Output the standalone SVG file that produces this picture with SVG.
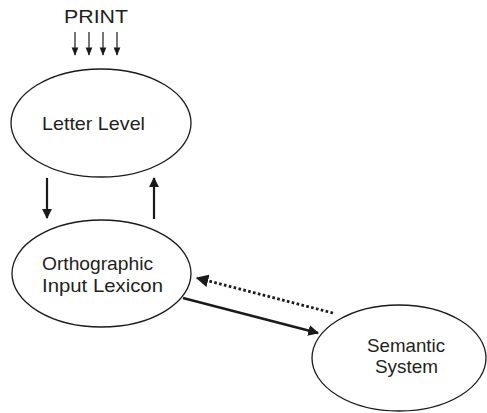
<svg xmlns="http://www.w3.org/2000/svg" width="487" height="413" viewBox="0 0 487 413">
<style>
.node{fill:#fff;stroke:#1a1a1a;stroke-width:1.3}
.lbl{font-family:"Liberation Sans",Arial,sans-serif;font-size:19px;fill:#231f20}
.c{stroke:#1a1a1a;fill:none}
</style>
<defs>
<marker id="ah" viewBox="0 0 10 10" refX="9" refY="5" markerWidth="4.5" markerHeight="4.5" orient="auto" markerUnits="strokeWidth"><path d="M0,0L10,5L0,10z" fill="#1a1a1a"/></marker>
<marker id="ahs" viewBox="0 0 10 10" refX="9" refY="5" markerWidth="7" markerHeight="7" orient="auto" markerUnits="strokeWidth"><path d="M0,1L10,5L0,9z" fill="#1a1a1a"/></marker>
</defs>
<rect width="487" height="413" fill="#fff"/>
<g id="print">
<text class="lbl" x="64" y="23" textLength="64" lengthAdjust="spacingAndGlyphs">PRINT</text>
</g>
<g id="letter-level">
<ellipse class="node" cx="101" cy="123" rx="90" ry="54"/>
<text class="lbl" x="42" y="130" textLength="103" lengthAdjust="spacingAndGlyphs">Letter Level</text>
</g>
<g id="orthographic-input-lexicon">
<ellipse class="node" cx="101.5" cy="273.5" rx="89.5" ry="53.5"/>
<text class="lbl" x="42" y="270" textLength="111" lengthAdjust="spacingAndGlyphs">Orthographic</text>
<text class="lbl" x="42" y="292" textLength="121" lengthAdjust="spacingAndGlyphs">Input Lexicon</text>
</g>
<g id="semantic-system">
<ellipse class="node" cx="399" cy="358" rx="87" ry="53"/>
<text class="lbl" x="406" y="352" text-anchor="middle" textLength="78" lengthAdjust="spacingAndGlyphs">Semantic</text>
<text class="lbl" x="406.5" y="373" text-anchor="middle" textLength="63" lengthAdjust="spacingAndGlyphs">System</text>
</g>
<g id="connectors">
<line class="c" x1="75" y1="32" x2="75" y2="55" stroke-width="1.2" marker-end="url(#ahs)"/>
<line class="c" x1="89" y1="32" x2="89" y2="55" stroke-width="1.2" marker-end="url(#ahs)"/>
<line class="c" x1="103" y1="32" x2="103" y2="55" stroke-width="1.2" marker-end="url(#ahs)"/>
<line class="c" x1="117" y1="32" x2="117" y2="55" stroke-width="1.2" marker-end="url(#ahs)"/>
<line class="c" x1="47" y1="178" x2="47" y2="218" stroke-width="2.2" marker-end="url(#ah)"/>
<line class="c" x1="154" y1="219" x2="154" y2="178" stroke-width="2.2" marker-end="url(#ah)"/>
<line class="c" x1="183" y1="298" x2="318" y2="333" stroke-width="2.4" marker-end="url(#ah)"/>
<line class="c" x1="333" y1="313" x2="197" y2="278" stroke-width="2.8" stroke-dasharray="2.6 2.4" marker-end="url(#ah)"/>
</g>
</svg>
